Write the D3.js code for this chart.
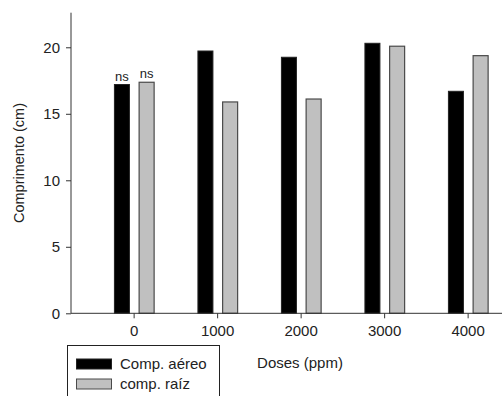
<!DOCTYPE html>
<html>
<head>
<meta charset="utf-8">
<script src="https://cdn.jsdelivr.net/npm/d3@7/dist/d3.min.js"></script>
<style>
  html, body { margin: 0; padding: 0; background: #fff; }
  svg { display: block; font-family: "Liberation Sans", Arial, sans-serif; }
</style>
</head>
<body>
<svg id="chart" width="502" height="396"></svg>
<script>
// Doses (ppm) and mean lengths (cm) for shoot and root
const doses = [0, 1000, 2000, 3000, 4000];
const compAereo = [17.2, 19.72, 19.25, 20.3, 16.69];
const compRaiz = [17.37, 15.89, 16.11, 20.08, 19.37];
const seriesNames = ["Comp. aéreo", "comp. raíz"];
const yTicks = [0, 5, 10, 15, 20];
const nsLabels = ["ns", "ns"]; // shown over the 0 ppm pair

const svg = d3.select("#chart");
const plotLeft = 71, plotTop = 12.7, plotBottom = 313.3;

const x = d3.scaleLinear().domain([-750, 4450]).range([plotLeft, plotLeft + 5200 * 0.0835]);
const y = d3.scaleLinear().domain([0, 22.6]).range([plotBottom, plotTop]);

const barW = 15;
const offDark = -11.7, offGray = 13;

// Bars
const g = svg.append("g");
g.selectAll("rect.aereo").data(doses).join("rect")
  .attr("class", "aereo")
  .attr("x", (d) => x(d) + offDark - barW / 2)
  .attr("y", (d, i) => y(compAereo[i]))
  .attr("width", barW)
  .attr("height", (d, i) => y(0) - y(compAereo[i]))
  .attr("fill", "#000")
  .attr("stroke", "#222")
  .attr("stroke-width", 1);

g.selectAll("rect.raiz").data(doses).join("rect")
  .attr("class", "raiz")
  .attr("x", (d) => x(d) + offGray - barW / 2)
  .attr("y", (d, i) => y(compRaiz[i]))
  .attr("width", barW)
  .attr("height", (d, i) => y(0) - y(compRaiz[i]))
  .attr("fill", "#c0c0c0")
  .attr("stroke", "#4a4a4a")
  .attr("stroke-width", 1.2);

// "ns" labels over the control pair
g.append("text")
  .attr("x", x(doses[0]) + offDark).attr("y", y(compAereo[0]) - 4)
  .attr("text-anchor", "middle").attr("font-size", 13).attr("fill", "#222")
  .text(nsLabels[0]);
g.append("text")
  .attr("x", x(doses[0]) + offGray).attr("y", y(compRaiz[0]) - 4)
  .attr("text-anchor", "middle").attr("font-size", 13).attr("fill", "#222")
  .text(nsLabels[1]);

// Axes
const yAxis = svg.append("g")
  .attr("transform", `translate(${plotLeft},0)`)
  .call(d3.axisLeft(y).tickValues(yTicks).tickSize(5).tickPadding(6));
yAxis.select(".domain").attr("d", `M0,${plotTop}V${plotBottom}`).attr("stroke", "#333");

const xAxis = svg.append("g")
  .attr("transform", `translate(0,${plotBottom})`)
  .call(d3.axisBottom(x).tickValues(doses).tickFormat(d3.format("d")).tickSize(5).tickPadding(7));
xAxis.select(".domain").attr("d", `M${plotLeft},0H510`).attr("stroke", "#333");

svg.selectAll(".tick line").attr("stroke", "#333");
svg.selectAll(".tick text").attr("font-size", 15).attr("fill", "#222")
  .attr("font-family", "'Liberation Sans', Arial, sans-serif");

// Axis titles
svg.append("text")
  .attr("transform", `translate(24,${(plotTop + plotBottom) / 2}) rotate(-90)`)
  .attr("text-anchor", "middle").attr("font-size", 14.5).attr("fill", "#222")
  .text("Comprimento (cm)");

svg.append("text")
  .attr("x", 300).attr("y", 368)
  .attr("text-anchor", "middle").attr("font-size", 15).attr("fill", "#222")
  .text("Doses (ppm)");

// Legend
const leg = svg.append("g");
leg.append("rect")
  .attr("x", 67.5).attr("y", 345.5).attr("width", 152).attr("height", 60)
  .attr("fill", "#fff").attr("stroke", "#222").attr("stroke-width", 1);
const legFill = ["#000", "#c0c0c0"];
const legStroke = ["#222", "#4a4a4a"];
seriesNames.forEach((name, i) => {
  leg.append("rect")
    .attr("x", 76.5).attr("y", 359 + i * 20).attr("width", 35).attr("height", 10)
    .attr("fill", legFill[i]).attr("stroke", legStroke[i]).attr("stroke-width", 1);
  leg.append("text")
    .attr("x", 120).attr("y", 369 + i * 20)
    .attr("font-size", 15).attr("fill", "#222")
    .text(name);
});
</script>
</body>
</html>
